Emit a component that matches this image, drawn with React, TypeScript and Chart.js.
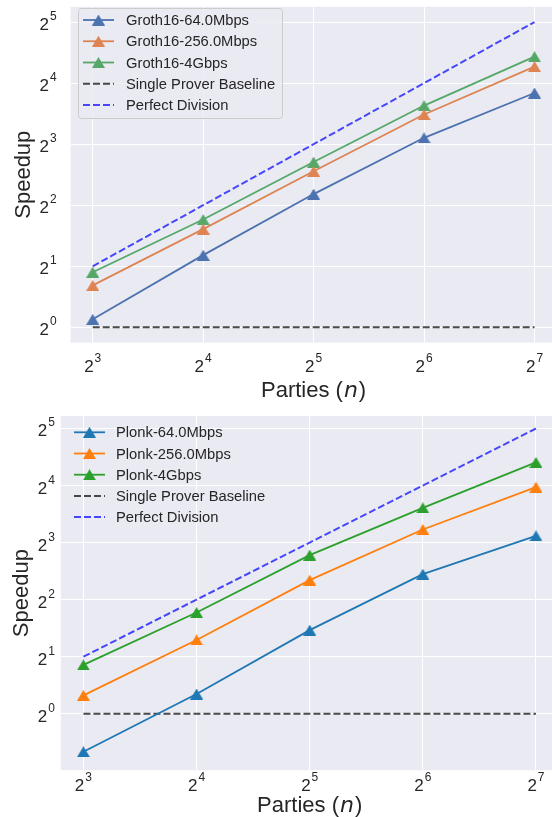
import React, { useEffect, useRef } from "react";
import { Chart, registerables } from "chart.js";

Chart.register(...registerables);

// ---------- data ----------
const parties = [8, 16, 32, 64, 128];
const xTickExps = [3, 4, 5, 6, 7];
const yTickExps = [0, 1, 2, 3, 4, 5];

const groth64 = [1.095, 2.27, 4.54, 8.6, 14.3];
const groth256 = [1.61, 3.05, 5.88, 11.2, 19.3];
const groth4g = [1.87, 3.4, 6.53, 12.4, 21.6];

const plonk64 = [0.63, 1.27, 2.76, 5.45, 8.68];
const plonk256 = [1.25, 2.45, 5.07, 9.38, 15.7];
const plonk4g = [1.81, 3.42, 6.87, 12.2, 21.2];

const baseline = [1, 1, 1, 1, 1];
const perfect = [2, 4, 8, 16, 32];

const grothLabels = [
  "Groth16-64.0Mbps",
  "Groth16-256.0Mbps",
  "Groth16-4Gbps",
  "Single Prover Baseline",
  "Perfect Division",
];
const plonkLabels = [
  "Plonk-64.0Mbps",
  "Plonk-256.0Mbps",
  "Plonk-4Gbps",
  "Single Prover Baseline",
  "Perfect Division",
];

const deepColors = ["#4C72B0", "#DD8452", "#55A868"];
const tabColors = ["#1f77b4", "#ff7f0e", "#2ca02c"];
const baselineColor = "rgba(0,0,0,0.7)";
const perfectColor = "rgba(0,0,255,0.7)";

// ---------- style ----------
const BG = "#EAEAF2";
const TEXT = "#262626";
const FONT = "'Liberation Sans', Arial, Helvetica, sans-serif";
const CANVAS_W = 600;

function makeTriangle(color: string): HTMLCanvasElement {
  const c = document.createElement("canvas");
  c.width = 13;
  c.height = 11;
  const g = c.getContext("2d")!;
  g.fillStyle = color;
  g.beginPath();
  g.moveTo(6.5, 0);
  g.lineTo(13, 11);
  g.lineTo(0, 11);
  g.closePath();
  g.fill();
  return c;
}

function drawPow(
  ctx: CanvasRenderingContext2D,
  x: number,
  base: number,
  exp: number,
  align: "center" | "right"
) {
  ctx.font = `17px ${FONT}`;
  const w1 = ctx.measureText("2").width;
  ctx.font = `12px ${FONT}`;
  const e = String(exp);
  const w2 = ctx.measureText(e).width;
  const gap = 1;
  const total = w1 + gap + w2;
  const x0 = align === "center" ? x - total / 2 : x - total;
  ctx.textAlign = "left";
  ctx.textBaseline = "alphabetic";
  ctx.fillStyle = TEXT;
  ctx.font = `17px ${FONT}`;
  ctx.fillText("2", x0, base);
  ctx.font = `12px ${FONT}`;
  ctx.fillText(e, x0 + w1 + gap, base - 10);
}

const panelPlugin = {
  id: "panel",
  beforeDraw(chart: any) {
    const { ctx, chartArea: a } = chart;
    ctx.save();
    ctx.fillStyle = BG;
    ctx.fillRect(a.left, a.top, a.right - a.left, a.bottom - a.top);
    ctx.restore();
  },
  afterDraw(chart: any, _args: any, o: any) {
    const { ctx, chartArea: a } = chart;
    const xs = chart.scales.x;
    const ys = chart.scales.y;
    ctx.save();
    // y tick labels
    yTickExps.forEach((e) => {
      const py = ys.getPixelForValue(Math.pow(2, e));
      drawPow(ctx, o.yLabelRight, py + 8, e, "right");
    });
    // x tick labels
    xTickExps.forEach((e) => {
      const px = xs.getPixelForValue(Math.pow(2, e));
      drawPow(ctx, px, a.bottom + o.xTickOffset, e, "center");
    });
    // y title
    ctx.save();
    ctx.translate(o.yTitleX, (a.top + a.bottom) / 2);
    ctx.rotate(-Math.PI / 2);
    ctx.font = `22px ${FONT}`;
    ctx.fillStyle = TEXT;
    ctx.textAlign = "center";
    ctx.textBaseline = "middle";
    ctx.fillText("Speedup", 0, 0);
    ctx.restore();
    // x title "Parties (n)"
    const p1 = "Parties (";
    const p2 = "n";
    const p3 = ")";
    ctx.font = `22px ${FONT}`;
    const w1 = ctx.measureText(p1).width;
    const w3 = ctx.measureText(p3).width;
    ctx.font = `italic 22px 'DejaVu Sans', sans-serif`;
    const w2 = ctx.measureText(p2).width;
    const tot = w1 + w2 + w3 + 2;
    let cx = (a.left + a.right) / 2 - tot / 2;
    ctx.fillStyle = TEXT;
    ctx.textAlign = "left";
    ctx.textBaseline = "alphabetic";
    ctx.font = `22px ${FONT}`;
    ctx.fillText(p1, cx, o.xTitleBaseline);
    cx += w1 + 1;
    ctx.font = `italic 22px 'DejaVu Sans', sans-serif`;
    ctx.fillText(p2, cx, o.xTitleBaseline);
    cx += w2 + 1;
    ctx.font = `22px ${FONT}`;
    ctx.fillText(p3, cx, o.xTitleBaseline);

    // legend
    const L = o.legend;
    if (L.frame) {
      const [fx, fy, fw, fh] = L.frame;
      ctx.beginPath();
      ctx.roundRect(fx + 0.5, fy + 0.5, fw, fh, 3);
      ctx.fillStyle = "rgba(234,234,242,0.8)";
      ctx.fill();
      ctx.strokeStyle = "#CCCCCC";
      ctx.lineWidth = 1;
      ctx.stroke();
    }
    chart.data.datasets.forEach((ds: any, i: number) => {
      const cy = L.y0 + i * L.step;
      ctx.beginPath();
      ctx.setLineDash(ds.borderDash || []);
      ctx.strokeStyle = ds.borderColor;
      ctx.lineWidth = ds.borderWidth;
      ctx.moveTo(L.x0, cy);
      ctx.lineTo(L.x1, cy);
      ctx.stroke();
      ctx.setLineDash([]);
      if (ds.pointRadius > 0 && ds.pointStyle instanceof HTMLCanvasElement) {
        const im = ds.pointStyle as HTMLCanvasElement;
        ctx.drawImage(im, (L.x0 + L.x1) / 2 - im.width / 2, cy - im.height / 2);
      }
      ctx.font = `14.75px ${FONT}`;
      ctx.fillStyle = TEXT;
      ctx.textAlign = "left";
      ctx.textBaseline = "middle";
      ctx.fillText(ds.label, L.textX, cy + 1);
    });
    ctx.restore();
  },
};

interface PanelCfg {
  labels: string[];
  series: number[][];
  colors: string[];
  yMinExp: number;
  yMaxExp: number;
  height: number;
  padding: { left: number; top: number; right: number; bottom: number };
  panel: any;
}

function buildConfig(p: PanelCfg): any {
  const toPts = (arr: number[]) => parties.map((x, i) => ({ x, y: arr[i] }));
  const datasets: any[] = p.series.map((s, i) => ({
    label: p.labels[i],
    data: toPts(s),
    borderColor: p.colors[i],
    backgroundColor: p.colors[i],
    borderWidth: 1.8,
    pointStyle: makeTriangle(p.colors[i]),
    pointRadius: 5,
    tension: 0,
  }));
  datasets.push({
    label: p.labels[3],
    data: toPts(baseline),
    borderColor: baselineColor,
    borderWidth: 2,
    borderDash: [7, 3],
    pointRadius: 0,
  });
  datasets.push({
    label: p.labels[4],
    data: toPts(perfect),
    borderColor: perfectColor,
    borderWidth: 2,
    borderDash: [7, 3],
    pointRadius: 0,
  });
  const grid = { color: "#FFFFFF", lineWidth: 1, drawTicks: false };
  return {
    type: "line",
    data: { datasets },
    plugins: [panelPlugin],
    options: {
      animation: false,
      responsive: false,
      maintainAspectRatio: false,
      layout: { padding: p.padding },
      scales: {
        x: {
          type: "logarithmic",
          min: parties[0] / Math.pow(2, 0.2),
          max: parties[parties.length - 1] * Math.pow(2, 0.2),
          grid,
          border: { display: false },
          ticks: { display: false },
          afterBuildTicks: (s: any) => {
            s.ticks = xTickExps.map((e) => ({ value: Math.pow(2, e) }));
          },
          afterFit: (s: any) => {
            s.height = 0;
          },
        },
        y: {
          type: "logarithmic",
          min: Math.pow(2, p.yMinExp),
          max: Math.pow(2, p.yMaxExp),
          grid,
          border: { display: false },
          ticks: { display: false },
          afterBuildTicks: (s: any) => {
            s.ticks = yTickExps.map((e) => ({ value: Math.pow(2, e) }));
          },
          afterFit: (s: any) => {
            s.width = 0;
          },
        },
      },
      plugins: {
        legend: { display: false },
        tooltip: { enabled: false },
        panel: p.panel,
      },
    },
  };
}

const topCfg: PanelCfg = {
  labels: grothLabels,
  series: [groth64, groth256, groth4g],
  colors: deepColors,
  yMinExp: -0.25,
  yMaxExp: 5.25,
  height: 410,
  padding: { left: 70.6, top: 0, right: CANVAS_W - 556.6, bottom: 410 - 342.6 },
  panel: {
    yLabelRight: 56.7,
    xTickOffset: 29.4,
    yTitleX: 24,
    xTitleBaseline: 396.5,
    legend: { x0: 83, x1: 114, textX: 126, y0: 20, step: 21.25, frame: [78, 8, 204, 110] },
  },
};

const bottomCfg: PanelCfg = {
  labels: plonkLabels,
  series: [plonk64, plonk256, plonk4g],
  colors: tabColors,
  yMinExp: -0.99,
  yMaxExp: 5.219,
  height: 417,
  padding: { left: 60.8, top: 16, right: CANVAS_W - 558.6, bottom: 417 - 370.2 },
  panel: {
    yLabelRight: 55,
    xTickOffset: 21,
    yTitleX: 22,
    xTitleBaseline: 411.5,
    legend: { x0: 74, x1: 105, textX: 116, y0: 32.3, step: 21.2, frame: null },
  },
};

function Panel({ cfg, top }: { cfg: PanelCfg; top: number }) {
  const ref = useRef<HTMLCanvasElement | null>(null);
  useEffect(() => {
    if (!ref.current) return;
    const chart = new Chart(ref.current, buildConfig(cfg));
    return () => chart.destroy();
  }, [cfg]);
  return (
    <canvas
      ref={ref}
      width={CANVAS_W}
      height={cfg.height}
      style={{ position: "absolute", left: 0, top, width: CANVAS_W, height: cfg.height }}
    />
  );
}

export default function App() {
  return (
    <div
      style={{
        position: "fixed",
        left: 0,
        top: 0,
        width: 552,
        height: 817,
        overflow: "hidden",
        background: "#FFFFFF",
      }}
    >
      <Panel cfg={topCfg} top={0} />
      <Panel cfg={bottomCfg} top={400} />
    </div>
  );
}
